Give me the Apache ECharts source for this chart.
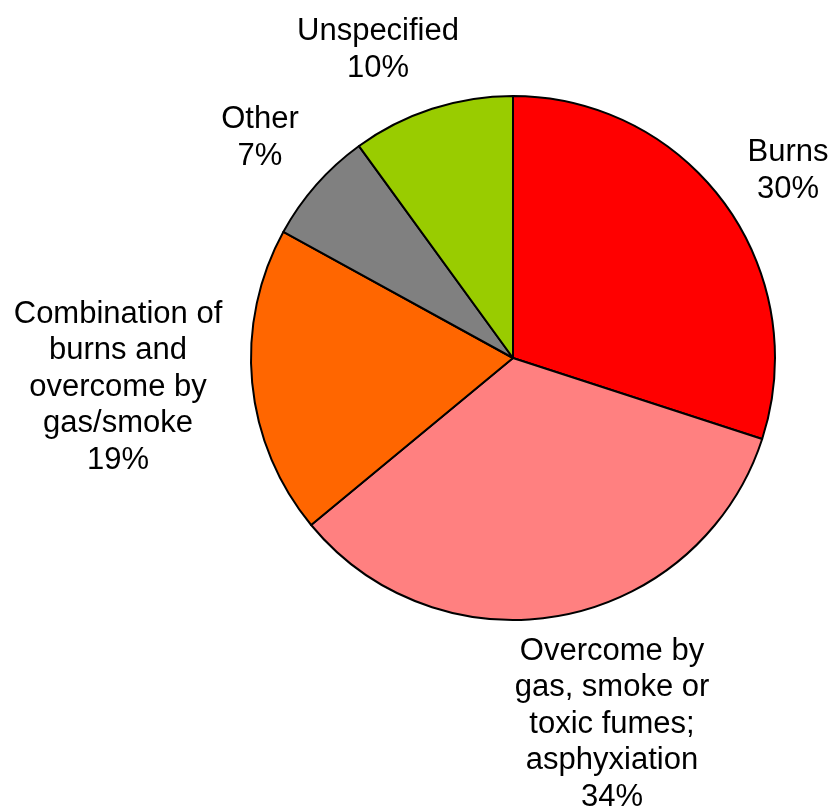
<!DOCTYPE html>
<html>
<head>
<meta charset="utf-8">
<title>Pie</title>
<script src="https://cdn.jsdelivr.net/npm/echarts@6/dist/echarts.min.js"></script>
<style>html,body{margin:0;padding:0;background:#fff;}</style>
</head>
<body>
<div id="main" style="width:833px;height:810px;"></div>
<script>
var categories = ['Burns', 'Overcome by\ngas, smoke or\ntoxic fumes;\nasphyxiation', 'Combination of\nburns and\novercome by\ngas/smoke', 'Other', 'Unspecified'];
var values = [30, 34, 19, 7, 10];
var colors = ['#ff0000', '#ff8080', '#ff6600', '#808080', '#99cc00'];
// label centres (px)
var labelPos = [[788, 171], [612, 724], [118, 387], [260, 138], [378, 50]];

var chart = echarts.init(document.getElementById('main'));
chart.setOption({
  animation: false,
  series: [{
    type: 'pie',
    center: [513, 358],
    radius: 262,
    startAngle: 90,
    clockwise: true,
    data: values.map(function (v, i) {
      return { name: categories[i], value: v, itemStyle: { color: colors[i] } };
    }),
    itemStyle: { borderColor: '#000', borderWidth: 2 },
    label: {
      show: true,
      position: 'outside',
      formatter: '{b}\n{c}%',
      fontFamily: 'Liberation Sans, Arial, sans-serif',
      fontSize: 31,
      lineHeight: 36.5,
      color: '#000',
      align: 'center',
      overflow: 'none',
      edgeDistance: 0,
      bleedMargin: 0
    },
    labelLine: { show: false },
    labelLayout: function (p) {
      var pos = labelPos[p.dataIndex];
      return { x: pos[0], y: pos[1], align: 'center', verticalAlign: 'middle' };
    },
    emphasis: { disabled: true }
  }]
});
</script>
</body>
</html>
